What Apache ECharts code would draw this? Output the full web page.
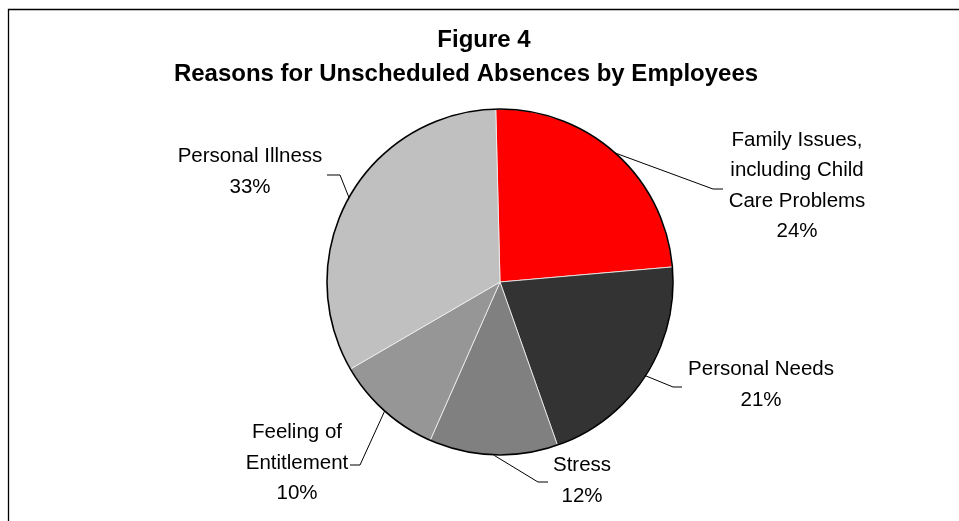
<!DOCTYPE html>
<html>
<head>
<meta charset="utf-8">
<script src="https://cdn.jsdelivr.net/npm/echarts@6/dist/echarts.min.js"></script>
<style>
html,body{margin:0;padding:0;background:#fff;}
#chart{width:959px;height:521px;}
</style>
</head>
<body>
<div id="chart"></div>
<script>
// ---- data ----
var titleLine1 = "Figure 4";
var titleLine2 = "Reasons for Unscheduled Absences by Employees";
var categories = [
  "Family Issues,\nincluding Child\nCare Problems",
  "Personal Needs",
  "Stress",
  "Feeling of\nEntitlement",
  "Personal Illness"
];
var values = [24, 21, 12, 10, 33];
var colors = ["#FF0000", "#333333", "#808080", "#969696", "#C0C0C0"];

// ---- label placement (text block centre, leader bend, leader end) ----
var labelPlace = [
  {x: 797, y: 186, bend: [713, 189], end: [723, 189]},
  {x: 761, y: 385, bend: [673, 387], end: [682, 387]},
  {x: 582, y: 481, bend: [538, 482], end: [548, 482]},
  {x: 297, y: 463, bend: [360, 465], end: [350, 465]},
  {x: 250, y: 172, bend: [340, 175], end: [327, 175]}
];

var FONT = '"Liberation Sans", Arial, Helvetica, sans-serif';
var chart = echarts.init(document.getElementById('chart'), null, {renderer: 'canvas'});

var pieData = categories.map(function (c, i) {
  return {name: c, value: values[i], itemStyle: {color: colors[i]}};
});

chart.setOption({
  animation: false,
  backgroundColor: '#ffffff',
  graphic: [{
    type: 'rect',
    shape: {x: 8.5, y: 9.5, width: 1100, height: 700},
    style: {fill: 'none', stroke: '#000', lineWidth: 1.3},
    silent: true
  }],
  title: [{
    text: titleLine1,
    left: 484, top: 28, padding: 0, textAlign: 'center',
    textStyle: {fontFamily: FONT, fontSize: 24, fontWeight: 'bold', color: '#000'}
  }, {
    text: titleLine2,
    left: 466, top: 62, padding: 0, textAlign: 'center',
    textStyle: {fontFamily: FONT, fontSize: 24, fontWeight: 'bold', color: '#000'}
  }],
  series: [{
    type: 'pie',
    center: [500, 282],
    radius: [0, 173],
    startAngle: 91.4,
    clockwise: true,
    avoidLabelOverlap: false,
    silent: true,
    emphasis: {disabled: true},
    data: pieData,
    itemStyle: {borderColor: '#f2f2f2', borderWidth: 0.8},
    label: {
      show: true,
      position: 'outside',
      formatter: function (p) { return p.name + '\n' + Math.round(p.percent) + '%'; },
      fontFamily: FONT,
      fontSize: 20.5,
      lineHeight: 30.5,
      color: '#000',
      align: 'center'
    },
    labelLine: {show: true, length: 20, length2: 10, smooth: false,
      lineStyle: {color: '#000', width: 1}},
    labelLayout: function (params) {
      var lp = labelPlace[params.dataIndex];
      var p0 = params.labelLinePoints ? params.labelLinePoints[0] : lp.bend;
      return {
        x: lp.x, y: lp.y, align: 'center', verticalAlign: 'middle',
        labelLinePoints: [p0, lp.bend, lp.end]
      };
    }
  }, {
    type: 'pie',
    center: [500, 282],
    radius: [0, 173],
    silent: true,
    emphasis: {disabled: true},
    label: {show: false},
    labelLine: {show: false},
    data: [{value: 1, name: 'outline', itemStyle: {color: 'rgba(0,0,0,0)', borderColor: '#000', borderWidth: 1.6}}]
  }]
});
</script>
</body>
</html>
